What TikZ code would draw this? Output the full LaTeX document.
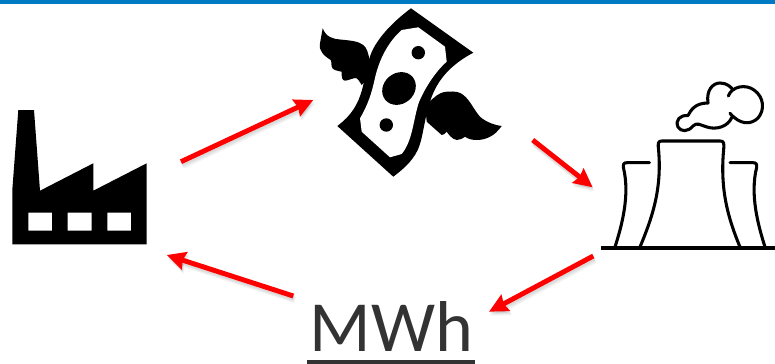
\documentclass[tikz,border=0pt]{standalone}
\usepackage{fontspec}
\setsansfont{Carlito}
\usetikzlibrary{arrows.meta}
\definecolor{topbar}{RGB}{0,122,194}
\definecolor{labelgray}{RGB}{51,51,51}
\tikzset{
  icon/.style={fill=black,draw=none},
  hole/.style={fill=white,draw=none},
  outline/.style={draw=black,line width=2.3pt,line cap=round,line join=round},
  flow/.style={->,draw=red,line width=3.7pt},
  flowshadow/.style={->,draw=black,opacity=.05,line width=4.5pt}
}
\begin{document}
\begin{tikzpicture}[x=0.75pt,y=-0.75pt,line join=round,>={Stealth[length=14pt,width=13.5pt,inset=1.5pt]}]
\useasboundingbox (0,0) rectangle (775,364);
\fill[topbar] (0,0) rectangle (775,4);
% factory
\path[icon,even odd rule] (18.3,110)--(34,110)--(40,190.7)--(93.3,163.3)--(93.3,190.7)--(146.7,163.3)--(146.7,244.3)--(12.3,244.3)--(12.3,190)--cycle
  (28.3,212.7) rectangle (52,230.7)
  (67.7,212.7) rectangle (91.7,230.7)
  (107.3,212.7) rectangle (131,230.7);
% money
\path[icon] (322.7,28.3) .. controls (326,37) and (333,39) .. (340,39.5) .. controls (350,40.5) and (358,41) .. (363.3,45)
  .. controls (367,48) and (368,53) .. (369.3,58.3) -- (372,75) -- (361.7,85) .. controls (359,81) and (358,78) .. (355,78)
  .. controls (350,79) and (345,82) .. (343.3,80) .. controls (341,78) and (342,74) .. (341.7,71.7)
  .. controls (338,71) and (332,70) .. (331.7,66.7) .. controls (331,63) and (332,61) .. (330.7,60)
  .. controls (324,56) and (318,50) .. (320,43.3) -- cycle;
\path[icon] (433.3,98.3) .. controls (438,94) and (442,92) .. (446.7,91.7) .. controls (455,91) and (460,92) .. (463.3,95)
  .. controls (470,100) and (474,110) .. (480,116.7) .. controls (486,122) and (494,125) .. (501.7,126)
  .. controls (498,131) and (494,135) .. (490,136.7) .. controls (486,139) and (481,140) .. (476.7,140)
  .. controls (472,140) and (468,139) .. (465,136.7) .. controls (462,139) and (459,140) .. (456.7,140)
  .. controls (452,139) and (449,135) .. (446.7,131.7) .. controls (445,134) and (443,135) .. (441.7,135)
  -- (426.7,121.7) -- (425,105) -- cycle;
\path[icon] (411,8.3)--(473.3,52.7) .. controls (452,64) and (439,78) .. (432,96) .. controls (424,116) and (424,136) .. (417.7,150) .. controls (412,162) and (402,170) .. (393.3,176.7)
  --(337.3,126) .. controls (352,115) and (358,104) .. (362,90) .. controls (367,72) and (367,57) .. (376.7,43) .. controls (385,30) and (398,18) .. (411,8.3) -- cycle;
\path[hole] (401.7,30)--(418.3,27.3)--(445,46.7)--(446.7,61.7) .. controls (435,72) and (425,88) .. (419,102) .. controls (413,120) and (413,140) .. (401.7,154)
  --(390,157.3)--(361.7,131.7)--(360,118.3) .. controls (368,105) and (372,92) .. (375,78) .. controls (379,60) and (388,42) .. (401.7,30) -- cycle;
\fill[black] (418.3,52.7) circle [radius=6.7];
\fill[black,rotate around={40:(399,88.5)}] (399,88.5) ellipse [x radius=17.8, y radius=15.3];
\fill[black] (386.3,125) circle [radius=6.7];
% cooling towers
\draw[black,line width=3pt] (601,248.3)--(775,248.3);
\draw[outline] (640,247) .. controls (652,218) and (662,190) .. (658.6,150) .. controls (657.7,143) and (658,141) .. (662,141) -- (720,141) .. controls (724,141) and (724.3,143) .. (723.6,150)
  .. controls (720,190) and (728,218) .. (740,247);
\draw[outline] (615,247) .. controls (622,225) and (630,195) .. (623.5,168) .. controls (622.7,164) and (624,162.7) .. (627,162.7) -- (649.5,162.7);
\draw[outline] (765,247) .. controls (758,225) and (750,195) .. (756.5,168) .. controls (757.3,164) and (756,162.7) .. (753,162.7) -- (730,162.7);
\draw[outline] (728.3,96) .. controls (732,86) and (746,84) .. (754,90) .. controls (764,97) and (765,110) .. (758,118) .. controls (751,125) and (740,125) .. (730,113.3)
  (732,117) .. controls (728,127) and (716,130) .. (707,127) .. controls (700,125) and (697,122) .. (693,126) .. controls (688,132) and (681,132) .. (678,127) .. controls (675,120) and (680,115) .. (688,115.5)
  .. controls (691,110) and (695,103) .. (708,103) .. controls (706,90) and (713,83) .. (720,83) .. controls (727,83) and (731,87) .. (733,90);
% label
\node[font=\sffamily\fontsize{54}{54}\selectfont,text=labelgray,inner sep=0pt,anchor=base] (mwh) at (391.5,351) {MWh};
\fill[labelgray] (306.7,360) rectangle (475,364);
% flows
\coordinate (factoryout) at (181,161.7);
\coordinate (moneyin) at (313.3,100);
\coordinate (moneyout) at (532.7,140);
\coordinate (towerin) at (592.7,187.3);
\coordinate (towerout) at (593.3,256);
\coordinate (mwhin) at (489,311.7);
\coordinate (mwhout) at (293.3,296);
\coordinate (factoryin) at (166.7,255);
\foreach \a/\b in {factoryout/moneyin,moneyout/towerin,towerout/mwhin,mwhout/factoryin}{
  \foreach \s in {1,2,3}
    \draw[flowshadow,transform canvas={shift={(\s*0.4pt,-\s pt)}}] (\a)--(\b);
  \draw[flow] (\a)--(\b);
}
\end{tikzpicture}
\end{document}
